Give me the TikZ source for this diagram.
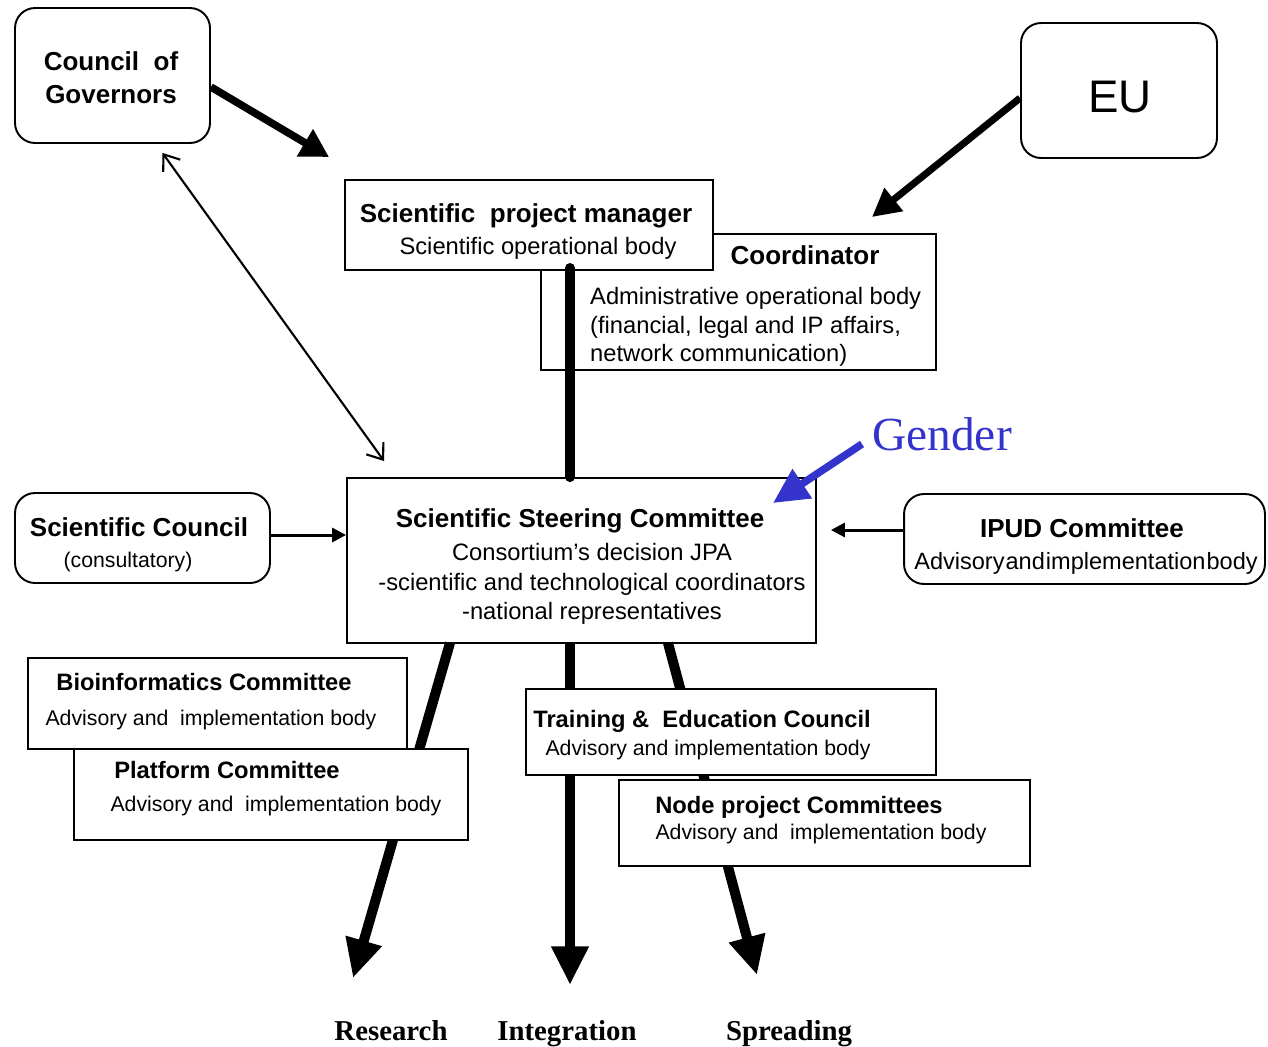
\documentclass[tikz,border=0pt]{standalone}
\usepackage{fontspec}
\setmainfont{Liberation Sans}
\newfontfamily\timesface{Liberation Serif}
\usetikzlibrary{arrows.meta}
\definecolor{genderblue}{RGB}{52,52,204}
\tikzset{
  box/.style={draw, fill=white, line width=1.1pt, inner sep=0pt},
  rbox/.style={box, rounded corners=0.4cm},
  bigtitle/.style={font=\bfseries\fontsize{14.8}{17}\selectfont},
  smalltitle/.style={font=\bfseries\fontsize{13.5}{16}\selectfont},
  bigbody/.style={font=\fontsize{13.5}{16.2}\selectfont},
  smallbody/.style={font=\fontsize{12.1}{14}\selectfont},
  fatline/.style={line width=5.7pt},
  fatarrow/.style={fatline, -{Triangle[length=22pt,width=20pt]}},
  toparrow/.style={line width=4.3pt, -{Triangle[length=16pt,width=17pt]}},
  medarrow/.style={line width=1.7pt, -{Triangle[length=8pt,width=8pt]}},
  thinarrow/.style={line width=1.2pt, {Straight Barb[length=8pt,width=12pt]}-{Straight Barb[length=8pt,width=12pt]}},
  outcome/.style={font=\timesface\bfseries\fontsize{16.4}{19}\selectfont, anchor=base}
}
\begin{document}
\begin{tikzpicture}[x=0.02cm,y=-0.02cm]
\useasboundingbox (0,0) rectangle (1268,1046);

% top level
\node[rbox, minimum width=3.9cm, minimum height=2.7cm] (gov) at (112.5,75.5) {};
\node[font=\bfseries\fontsize{14.8}{18.7}\selectfont, align=center] (govtxt) at (111,78) {Council\ \ of\\Governors};
\node[rbox, minimum width=3.92cm, minimum height=2.7cm] (eu) at (1119,90.5) {};
\node[font=\fontsize{26}{30}\selectfont] (eutxt) at (1120,97) {EU};

% operational bodies
\node[box, minimum width=7.9cm, minimum height=2.72cm] (coord) at (738.5,302) {};
\node[bigtitle] (coordttl) at (805,255) {Coordinator};
\node[font=\fontsize{13.5}{16.2}\selectfont, align=left, anchor=west] (coordtxt) at (584,327)
  {Administrative operational body\\(financial, legal and IP affairs,\\network communication)};
\node[box, minimum width=7.36cm, minimum height=1.8cm] (spm) at (529,225) {};
\node[bigtitle] (spmttl) at (526,216) {Scientific\ \ project manager};
\node[bigbody] (spmtxt) at (538,248) {Scientific operational body};

% steering committee
\node[box, minimum width=9.38cm, minimum height=3.3cm] (ssc) at (581.5,560.5) {};
\node[bigtitle] (sscttl) at (580,521) {Scientific Steering Committee};
\node[font=\fontsize{13.5}{16.7}\selectfont, align=center] (ssctxt) at (592,584)
  {Consortium’s decision JPA\\-scientific and technological coordinators\\-national representatives};

\coordinate (pm) at (570,268);
\draw[fatline, line cap=round] (pm) -- (pm |- ssc.north);

\node[rbox, minimum width=5.1cm, minimum height=1.8cm] (scc) at (142.5,538) {};
\node[bigtitle] (sccttl) at (139,527) {Scientific Council};
\node[smallbody] (scctxt) at (128,562) {(consultatory)};

\node[rbox, minimum width=7.22cm, minimum height=1.8cm] (ipud) at (1084.5,539) {};
\node[bigtitle] (ipudttl) at (1082,528) {IPUD Committee};
\node[font=\fontsize{13.4}{16}\selectfont] (ipudtxt) at (1086,563) {\spaceskip=0.6pt\relax Advisory and implementation body};

\draw[medarrow] ([yshift=0.06cm]scc.east) -- ([yshift=0.06cm]scc.east -| ssc.west);
\draw[medarrow, shorten >=0.28cm] ([yshift=0.18cm]ipud.west) -- ([yshift=0.18cm]ipud.west -| ssc.east);

% arrows from the top
\draw[toparrow] ([yshift=-0.23cm]gov.east) -- ([xshift=-0.3cm,yshift=0.44cm]spm.north west);
\draw[line width=4pt, -{Triangle[length=16pt,width=16pt]}] ([yshift=-0.15cm]eu.west) -- ([xshift=-1.3cm,yshift=0.32cm]coord.north east);
\draw[thinarrow] ([xshift=1.0cm,yshift=-0.18cm]gov.south) -- ([xshift=0.76cm,yshift=0.32cm]ssc.north west);

% gender
\node[text=genderblue, font=\timesface\fontsize{27}{30}\selectfont] (gender) at (942,434) {Gender};
\coordinate (gtip) at (773,503);
\draw[genderblue, line width=4.3pt, -{Triangle[length=20pt,width=19pt]}] ([xshift=-0.08cm,yshift=-0.2cm]gender.west) -- (gtip);

% outcomes
\node[outcome] (res) at (391,1040) {Research};
\node[outcome] (integ) at (567,1040) {Integration};
\node[outcome] (spread) at (789,1040) {Spreading};
\coordinate (r0) at (450,643);
\coordinate (rtip) at (353,978);
\coordinate (i0) at (570,643);
\coordinate (itip) at (570,985);
\coordinate (s0) at (668,643);
\coordinate (stip) at (757,975);
\draw[fatarrow] (r0) -- (rtip);
\draw[fatarrow] (i0) -- (itip);
\draw[fatarrow] (s0) -- (stip);

% committees
\node[box, minimum width=7.58cm, minimum height=1.82cm] (bio) at (217.5,703.5) {};
\node[smalltitle] (biottl) at (204,682) {Bioinformatics Committee};
\node[smallbody] (biotxt) at (211,720) {Advisory and\ \ implementation body};
\node[box, minimum width=7.88cm, minimum height=1.82cm] (plat) at (271,794.5) {};
\node[smalltitle] (platttl) at (227,770) {Platform Committee};
\node[smallbody] (plattxt) at (276,806) {Advisory and\ \ implementation body};
\node[box, minimum width=8.2cm, minimum height=1.72cm] (train) at (731,732) {};
\node[smalltitle] (trainttl) at (702,721) {Training \&\ \ Education Council};
\node[smallbody] (traintxt) at (708,750) {Advisory and implementation body};
\node[box, minimum width=8.22cm, minimum height=1.72cm] (nodep) at (824.5,823) {};
\node[smalltitle] (nodepttl) at (799,807) {Node project Committees};
\node[smallbody] (nodeptxt) at (821,834) {Advisory and\ \ implementation body};
\end{tikzpicture}
\end{document}
